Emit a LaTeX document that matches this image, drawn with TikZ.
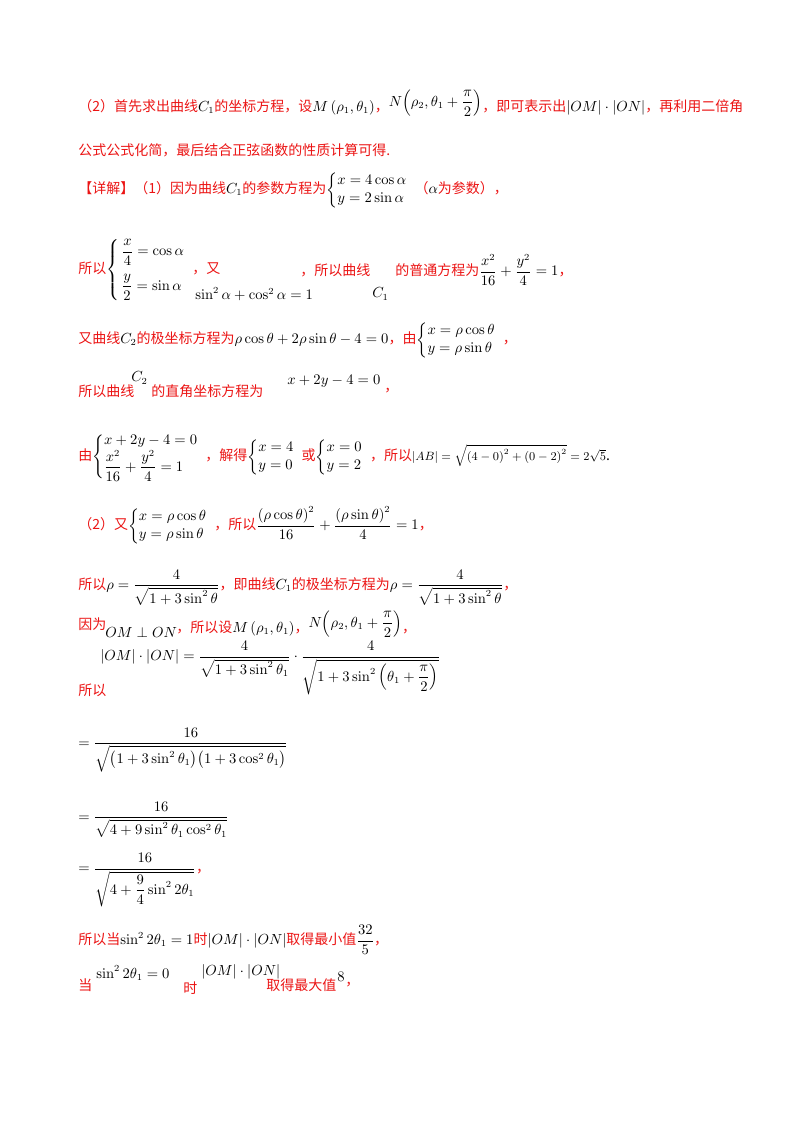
\documentclass[tikz,border=0pt]{standalone}
\usepackage{amsmath}
\usepackage[no-math]{fontspec}
\setmainfont{Noto Sans CJK SC}
\definecolor{rd}{RGB}{235,20,20}
\newcommand{\R}[1]{\textcolor{rd}{#1}}
\begin{document}
\begin{tikzpicture}[x=0.75pt,y=-0.75pt,
  t/.style={anchor=west,inner sep=0pt,font=\fontsize{10.5}{13}\selectfont}]
\useasboundingbox (0,0) rectangle (800,1132);
\node[t] (a1) at (78,103) {\R{（2）首先求出曲线}$C_1$\R{的坐标方程，设}$M\left(\rho_1,\theta_1\right)$\R{，}\raisebox{4pt}{$N\!\left(\rho_2,\theta_1+\dfrac{\pi}{2}\right)$}\R{，即可表示出}$\left|OM\right|\cdot\left|ON\right|$\R{，再利用二倍角}};
\node[t] (a2) at (78,150) {\R{公式公式化简，最后结合正弦函数的性质计算可得.}};
\node[t] (a3) at (78,190) {\R{【详解】（1）因为曲线}$C_1$\R{的参数方程为}$\left\{\begin{array}{@{}l}x=4\cos\alpha\\ y=2\sin\alpha\end{array}\right.$\R{（}$\alpha$\R{为参数），}};
\node[t] (a4) at (78,270) {\R{所以}$\left\{\begin{array}{@{\,}l}\dfrac{x}{4}=\cos\alpha\\[10pt] \dfrac{y}{2}=\sin\alpha\end{array}\right.$\R{，又}};
\node[t] (a4b) at (195,294) {$\sin^2\alpha+\cos^2\alpha=1$};
\node[t] (a4c) at (300,270) {\R{，所以曲线}};
\node[t] (a4d) at (372,294) {$C_1$};
\node[t] (a4e) at (395,270) {\R{的普通方程为}$\dfrac{x^2}{16}+\dfrac{y^2}{4}=1$\R{，}};
\node[t] (a5) at (78,340) {\R{又曲线}$C_2$\R{的极坐标方程为}$\rho\cos\theta+2\rho\sin\theta-4=0$\R{，由}$\left\{\begin{array}{@{}l}x=\rho\cos\theta\\ y=\rho\sin\theta\end{array}\right.$\R{，}};
\node[t] (a6) at (78,391) {\R{所以曲线}};
\node[t] (a6b) at (131,378) {$C_2$};
\node[t] (a6c) at (151,391) {\R{的直角坐标方程为}};
\node[t] (a6d) at (287,381) {$x+2y-4=0$};
\node[t] (a6e) at (384,391) {\R{，}};
\node[t] (a7) at (78,457) {\R{由}$\left\{\begin{array}{@{}l}x+2y-4=0\\ \dfrac{x^2}{16}+\dfrac{y^2}{4}=1\end{array}\right.$\R{，解得}$\left\{\begin{array}{@{}l}x=4\\ y=0\end{array}\right.$\R{或}$\left\{\begin{array}{@{}l}x=0\\ y=2\end{array}\right.$\R{，所以}{\small$\left|AB\right|=\sqrt{\left(4-0\right)^2+\left(0-2\right)^2}=2\sqrt5$}.};
\node[t] (a8) at (78,525) {\R{（2）又}$\left\{\begin{array}{@{}l}x=\rho\cos\theta\\ y=\rho\sin\theta\end{array}\right.$\R{，所以}$\dfrac{\left(\rho\cos\theta\right)^2}{16}+\dfrac{\left(\rho\sin\theta\right)^2}{4}=1$\R{，}};
\node[t] (a9) at (78,588) {\R{所以}$\rho=\dfrac{4}{\sqrt{1+3\sin^2\theta}}$\R{，即曲线}$C_1$\R{的极坐标方程为}$\rho=\dfrac{4}{\sqrt{1+3\sin^2\theta}}$\R{，}};
\node[t] (a10) at (78,624) {\R{因为}};
\node[t] (a10b) at (105,632) {$OM\perp ON$};
\node[t] (a10c) at (176,624) {\R{，所以设}$M\left(\rho_1,\theta_1\right)$\R{，}\raisebox{4pt}{$N\!\left(\rho_2,\theta_1+\dfrac{\pi}{2}\right)$}\R{，}};
\node[t] (a11) at (100,668) {$\left|OM\right|\cdot\left|ON\right|=\dfrac{4}{\sqrt{1+3\sin^2\theta_1}}\cdot\dfrac{4}{\sqrt{1+3\sin^2\left(\theta_1+\dfrac{\pi}{2}\right)}}$};
\node[t] (a11b) at (78,690) {\R{所以}};
\node[t] (a12) at (78,750) {$=\dfrac{16}{\sqrt{\bigl(1+3\sin^2\theta_1\bigr)\bigl(1+3\cos^2\theta_1\bigr)}}$};
\node[t] (a13) at (78,820) {$=\dfrac{16}{\sqrt{4+9\sin^2\theta_1\cos^2\theta_1}}$};
\node[t] (a14) at (78,880) {$=\dfrac{16}{\sqrt{4+\dfrac{9}{4}\sin^2 2\theta_1}}$\R{，}};
\node[t] (a15) at (78,940) {\R{所以当}$\sin^2 2\theta_1=1$\R{时}$\left|OM\right|\cdot\left|ON\right|$\R{取得最小值}$\dfrac{32}{5}$\R{，}};
\node[t] (a16) at (78,985) {\R{当}};
\node[t] (a16b) at (96,973) {$\sin^2 2\theta_1=0$};
\node[t] (a16c) at (183,988) {\R{时}};
\node[t] (a16d) at (201,972) {$\left|OM\right|\cdot\left|ON\right|$};
\node[t] (a16e) at (266,985) {\R{取得最大值}};
\node[t] (a16f) at (337,977) {$8$};
\node[t] (a16g) at (345,985) {\R{，}};
\end{tikzpicture}
\end{document}
